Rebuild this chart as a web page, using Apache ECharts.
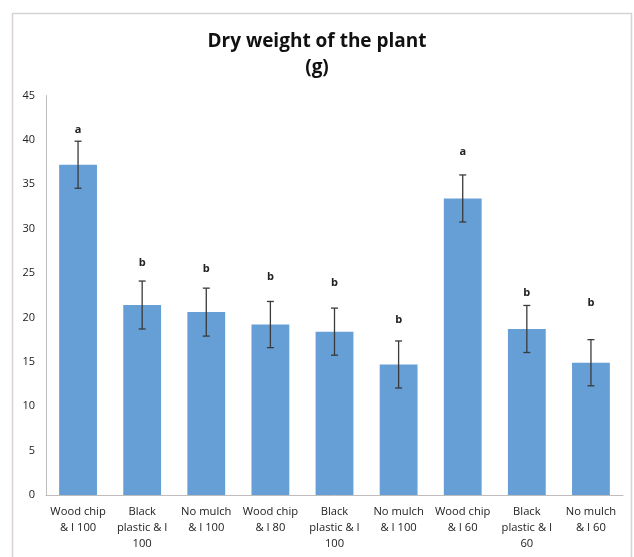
<!DOCTYPE html>
<html>
<head>
<meta charset="utf-8">
<script src="https://cdn.jsdelivr.net/npm/echarts@6/dist/echarts.min.js"></script>
<style>
html,body{margin:0;padding:0;background:#fff;}
#chart{width:634px;height:557px;}
</style>
</head>
<body>
<div id="chart"></div>
<script>
var categories = ["Wood chip\n& I 100", "Black\nplastic & I\n100", "No mulch\n& I 100", "Wood chip\n& I 80", "Black\nplastic & I\n100", "No mulch\n& I 100", "Wood chip\n& I 60", "Black\nplastic & I\n60", "No mulch\n& I 60"];
var means = [37.2, 21.4, 20.6, 19.2, 18.4, 14.7, 33.4, 18.7, 14.9];
var errors = [2.65, 2.7, 2.7, 2.6, 2.65, 2.65, 2.65, 2.65, 2.6];
var letters = ["a", "b", "b", "b", "b", "b", "a", "b", "b"];
var letterY = [41.1, 26.1, 25.5, 24.55, 23.85, 19.7, 38.7, 22.8, 21.6];
var yTicks = {min: 0, max: 45, interval: 5};

var chart = echarts.init(document.getElementById('chart'), null, {renderer: 'canvas'});
var font = '"Open Sans", "Liberation Sans", sans-serif';

var errData = means.map(function (m, i) { return [i, m - errors[i], m + errors[i]]; });
var letterData = letters.map(function (l, i) { return [i, letterY[i], l]; });

chart.setOption({
  backgroundColor: '#ffffff',
  animation: false,
  graphic: [{
    type: 'rect',
    shape: {x: 12.5, y: 13.5, width: 619, height: 560},
    style: {fill: 'none', stroke: '#d8d3d1', lineWidth: 1.5},
    silent: true
  }],
  title: {
    text: 'Dry weight of the plant\n(g)',
    left: 'center',
    top: 24,
    textStyle: {fontFamily: font, fontWeight: 'bold', fontSize: 19, color: '#111', lineHeight: 26}
  },
  grid: {left: 46, right: 11, top: 95.5, bottom: 62, containLabel: false},
  xAxis: {
    type: 'category',
    data: categories,
    axisLine: {lineStyle: {color: '#bdbdbd', width: 1}},
    axisTick: {show: false},
    axisLabel: {interval: 0, margin: 9, fontFamily: font, fontSize: 11.2, color: '#222', lineHeight: 16}
  },
  yAxis: {
    type: 'value',
    min: yTicks.min, max: yTicks.max, interval: yTicks.interval,
    axisLine: {show: true, lineStyle: {color: '#bdbdbd', width: 1}},
    axisTick: {show: false},
    splitLine: {show: false},
    axisLabel: {margin: 11, fontFamily: font, fontSize: 11, color: '#222'}
  },
  series: [
    {
      type: 'bar',
      data: means,
      barWidth: '59%',
      itemStyle: {color: '#659fd5'},
      z: 2
    },
    {
      type: 'custom',
      data: errData,
      z: 3,
      renderItem: function (params, api) {
        var x = api.value(0);
        var lo = api.coord([x, api.value(1)]);
        var hi = api.coord([x, api.value(2)]);
        var cap = 3.5;
        var st = {stroke: '#3a3a3a', lineWidth: 1.3};
        return {
          type: 'group',
          children: [
            {type: 'line', shape: {x1: lo[0], y1: lo[1], x2: hi[0], y2: hi[1]}, style: st},
            {type: 'line', shape: {x1: lo[0] - cap, y1: lo[1], x2: lo[0] + cap, y2: lo[1]}, style: st},
            {type: 'line', shape: {x1: hi[0] - cap, y1: hi[1], x2: hi[0] + cap, y2: hi[1]}, style: st}
          ]
        };
      }
    },
    {
      type: 'custom',
      data: letterData,
      z: 4,
      renderItem: function (params, api) {
        var p = api.coord([api.value(0), api.value(1)]);
        return {
          type: 'text',
          x: p[0], y: p[1],
          style: {
            text: letters[params.dataIndex],
            fontFamily: font, fontWeight: 'bold', fontSize: 11, fill: '#222',
            align: 'center', verticalAlign: 'middle'
          }
        };
      }
    }
  ]
});
</script>
</body>
</html>
